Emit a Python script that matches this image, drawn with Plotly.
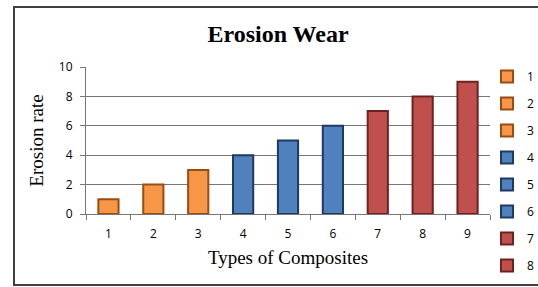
import plotly.graph_objects as go

categories = ["1", "2", "3", "4", "5", "6", "7", "8", "9"]
values = [1, 2, 3, 4, 5, 6, 7, 8, 9]
fill_colors = ["#F79646", "#F79646", "#F79646", "#4F81BD", "#4F81BD", "#4F81BD",
               "#C0504D", "#C0504D", "#C0504D"]
line_colors = ["#9A4D12", "#9A4D12", "#9A4D12", "#1F3A60", "#1F3A60", "#1F3A60",
               "#6E2220", "#6E2220", "#6E2220"]
legend_shown = [True, True, True, True, True, True, True, True, False]
y_ticks = [0, 2, 4, 6, 8, 10]

W, H = 538, 287
L, R, T, B = 86, 48, 67, 73
pw, ph = W - L - R, H - T - B

fig = go.Figure()
for cat, val, fc, lc, sl in zip(categories, values, fill_colors, line_colors, legend_shown):
    fig.add_trace(go.Bar(
        x=[cat], y=[val], name=cat, width=0.45,
        marker=dict(color=fc, line=dict(color=lc, width=2)),
        legendgroup=cat, showlegend=sl,
    ))

grid = "#777777"
fig.update_layout(
    width=W, height=H,
    margin=dict(l=L, r=R, t=T, b=B, autoexpand=False),
    paper_bgcolor="white", plot_bgcolor="white",
    barmode="overlay",
    title=dict(text="<b>Erosion Wear</b>", x=(278 / W), xanchor="center",
               y=1 - 34 / H, yanchor="middle",
               font=dict(family="Liberation Serif", size=24, color="black")),
    xaxis=dict(
        type="category", categoryorder="array", categoryarray=categories,
        tickson="boundaries", ticks="outside", ticklen=5, tickcolor=grid,
        showline=True, linecolor=grid, linewidth=1, showgrid=False,
        ticklabelstandoff=9,
        tickfont=dict(family="Open Sans", size=12, color="black"),
        title=dict(text="Types of Composites", standoff=9,
                   font=dict(family="Liberation Serif", size=19, color="black")),
    ),
    yaxis=dict(
        range=[0, 10], tickvals=y_ticks, ticks="outside", ticklen=5, tickcolor=grid,
        showline=True, linecolor=grid, linewidth=1,
        showgrid=True, gridcolor=grid, gridwidth=1.2, zeroline=False,
        ticklabelstandoff=5,
        tickfont=dict(family="Open Sans", size=12, color="black"),
        title=dict(text="Erosion rate", standoff=10,
                   font=dict(family="Liberation Serif", size=19, color="black")),
    ),
    legend=dict(
        x=(487 - L) / pw, xanchor="left", y=1 - (62 - T) / ph, yanchor="top",
        font=dict(family="Open Sans", size=12, color="black"),
        tracegroupgap=8, itemwidth=30, bgcolor="rgba(0,0,0,0)",
        maxheight=1,
    ),
    shapes=[dict(
        type="rect", xref="paper", yref="paper",
        x0=(14 - L) / pw, x1=(545 - L) / pw,
        y0=1 - (285 - T) / ph, y1=1 - (7 - T) / ph,
        line=dict(color="#404040", width=2), fillcolor="rgba(0,0,0,0)", layer="below",
    )],
)

fig.write_html("out.html", config={"displayModeBar": False},
               post_script="document.body.style.margin='0px';document.body.style.overflow='hidden';")
